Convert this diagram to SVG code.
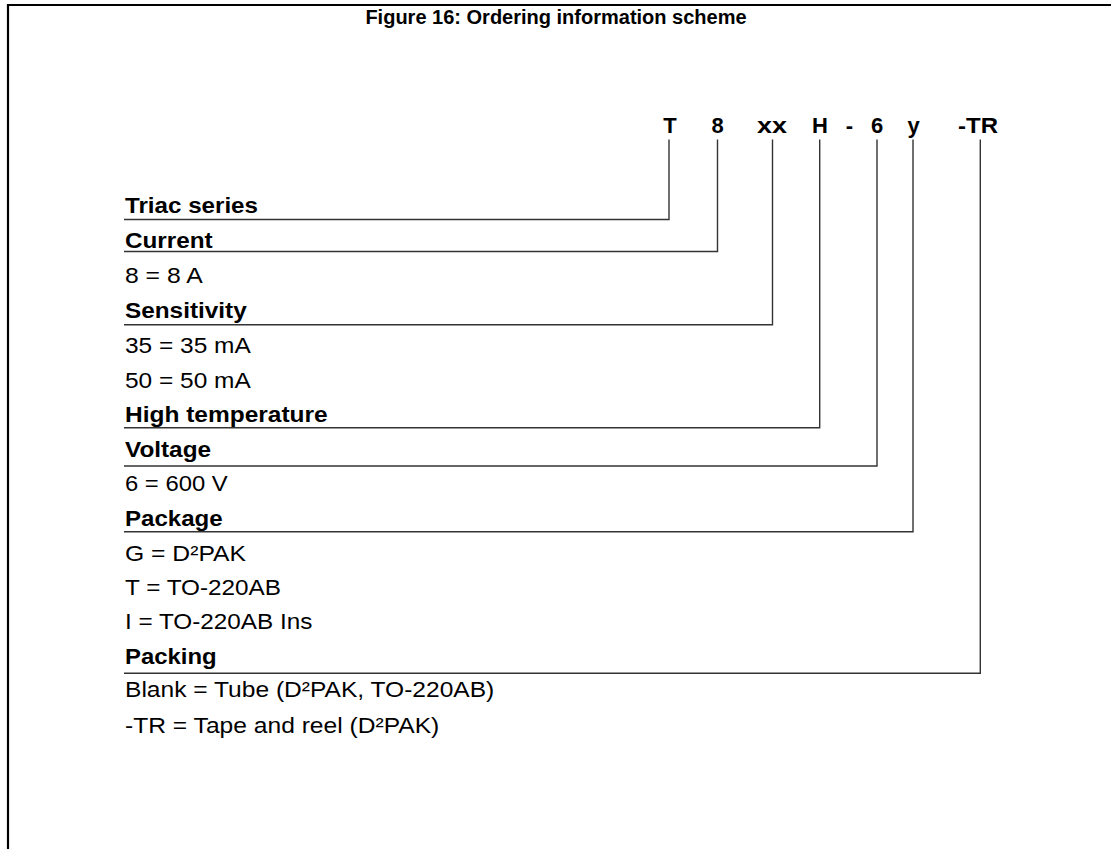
<svg xmlns="http://www.w3.org/2000/svg" width="1111" height="849" viewBox="0 0 1111 849">
<style>
.t{font-family:"Liberation Sans",Arial,sans-serif;font-size:22px;fill:#000}
.b{font-weight:bold}
.title{font-family:"Liberation Sans",Arial,sans-serif;font-size:20px;font-weight:bold;text-anchor:middle}
.code{font-family:"Liberation Sans",Arial,sans-serif;font-size:22px;font-weight:bold;text-anchor:middle}
.ln{fill:none;stroke:#333;stroke-width:1.4}
.frame{fill:none;stroke:#000;stroke-width:2.2}
</style>
<rect x="0" y="0" width="1111" height="849" fill="#fff"/>
<path class="frame" d="M8,849 V5 H1111"/>
<text class="title" x="556" y="24">Figure 16: Ordering information scheme</text>
<g id="code">
<text class="code" x="670" y="133">T</text>
<text class="code" x="717.5" y="133">8</text>
<text class="code" x="772" y="133" textLength="30" lengthAdjust="spacingAndGlyphs">xx</text>
<text class="code" x="820" y="133">H</text>
<text class="code" x="849.5" y="133">-</text>
<text class="code" x="877" y="133">6</text>
<text class="code" x="913.5" y="133">y</text>
<text class="code" x="978" y="133" textLength="40" lengthAdjust="spacingAndGlyphs">-TR</text>
</g>
<g id="connectors">
<path class="ln" d="M669,139.5 V219.5 H124"/>
<path class="ln" d="M717.5,139.5 V251.5 H124"/>
<path class="ln" d="M772.5,139.5 V324.7 H124"/>
<path class="ln" d="M819.7,139.5 V427.7 H124"/>
<path class="ln" d="M877,139.5 V466 H124"/>
<path class="ln" d="M913,139.5 V531.7 H124"/>
<path class="ln" d="M980.3,139.5 V673.3 H124"/>
</g>
<g id="triac"><text class="t b" x="125" y="213.3" textLength="133" lengthAdjust="spacingAndGlyphs">Triac series</text></g>
<g id="current">
<text class="t b" x="125" y="248.3" textLength="87.7" lengthAdjust="spacingAndGlyphs">Current</text>
<text class="t" x="125" y="282.7" textLength="77.7" lengthAdjust="spacingAndGlyphs">8 = 8 A</text>
</g>
<g id="sensitivity">
<text class="t b" x="125" y="318.3" textLength="121.7" lengthAdjust="spacingAndGlyphs">Sensitivity</text>
<text class="t" x="125" y="353.3" textLength="125.7" lengthAdjust="spacingAndGlyphs">35 = 35 mA</text>
<text class="t" x="125" y="388" textLength="125.7" lengthAdjust="spacingAndGlyphs">50 = 50 mA</text>
</g>
<g id="hightemp"><text class="t b" x="125" y="421.7" textLength="202.7" lengthAdjust="spacingAndGlyphs">High temperature</text></g>
<g id="voltage">
<text class="t b" x="125" y="457.3" textLength="86" lengthAdjust="spacingAndGlyphs">Voltage</text>
<text class="t" x="125" y="490.7" textLength="102.7" lengthAdjust="spacingAndGlyphs">6 = 600 V</text>
</g>
<g id="package">
<text class="t b" x="125" y="525.7" textLength="97.7" lengthAdjust="spacingAndGlyphs">Package</text>
<text class="t" x="125" y="561" textLength="121" lengthAdjust="spacingAndGlyphs">G = D²PAK</text>
<text class="t" x="125" y="595" textLength="156" lengthAdjust="spacingAndGlyphs">T = TO-220AB</text>
<text class="t" x="125" y="629" textLength="187.3" lengthAdjust="spacingAndGlyphs">I = TO-220AB Ins</text>
</g>
<g id="packing">
<text class="t b" x="125" y="664" textLength="91.7" lengthAdjust="spacingAndGlyphs">Packing</text>
<text class="t" x="125" y="697.3" textLength="369.3" lengthAdjust="spacingAndGlyphs">Blank = Tube (D²PAK, TO-220AB)</text>
<text class="t" x="125" y="732.7" textLength="314.3" lengthAdjust="spacingAndGlyphs">-TR = Tape and reel (D²PAK)</text>
</g>
</svg>
